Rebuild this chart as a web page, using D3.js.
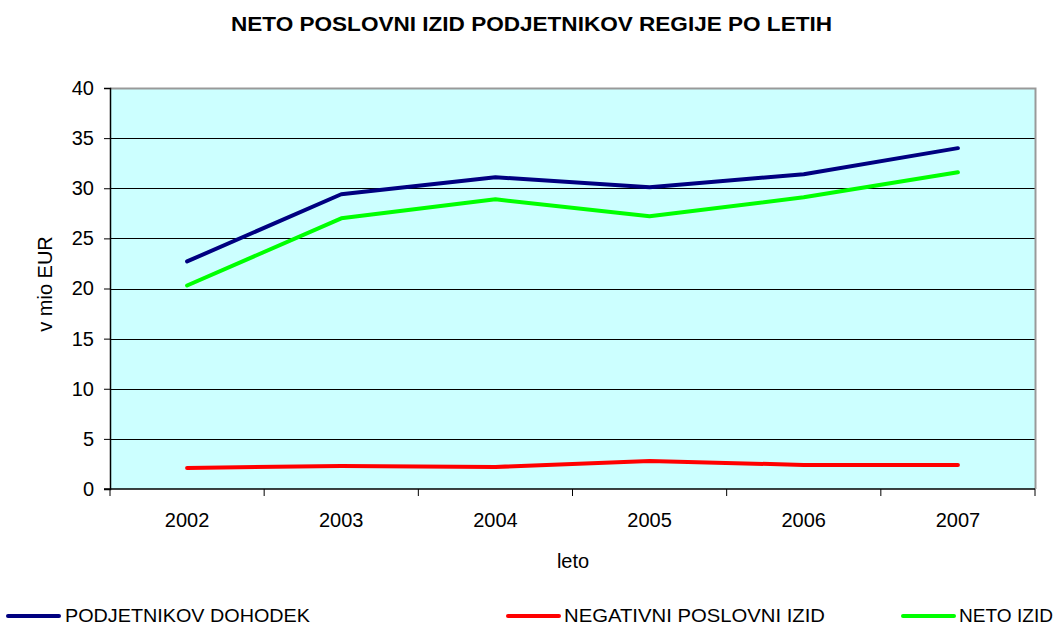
<!doctype html>
<html>
<head>
<meta charset="utf-8">
<style>
  body { margin: 0; background: #fff; }
  text { font-family: "Liberation Sans", Arial, sans-serif; fill: #000; }
</style>
<script src="https://d3js.org/d3.v7.min.js"></script>
</head>
<body>
<svg width="1056" height="626"></svg>
<script>
var years = ["2002", "2003", "2004", "2005", "2006", "2007"];
var dohodek = [22.7, 29.4, 31.1, 30.1, 31.4, 34.0];
var negativni = [2.1, 2.3, 2.2, 2.8, 2.4, 2.4];
var neto = [20.3, 27.0, 28.9, 27.2, 29.1, 31.6];
var yTicks = [0, 5, 10, 15, 20, 25, 30, 35, 40];

var series = [
  { name: "PODJETNIKOV DOHODEK", values: dohodek, color: "#000080" },
  { name: "NEGATIVNI POSLOVNI IZID", values: negativni, color: "#FF0000" },
  { name: "NETO IZID", values: neto, color: "#00FF00" }
];

var svg = d3.select("svg"),
    pLeft = 110, pRight = 1035, pTop = 88, pBottom = 489;

var x = d3.scaleBand().domain(years).range([pLeft, pRight]);
var y = d3.scaleLinear().domain([0, 40]).range([pBottom, pTop]);

// plot background
svg.append("rect")
   .attr("x", pLeft).attr("y", pTop)
   .attr("width", pRight - pLeft).attr("height", pBottom - pTop)
   .attr("fill", "#CCFFFF");

// grid lines
svg.append("g").selectAll("line")
   .data(yTicks.filter(function(d) { return d > 0 && d < 40; }))
   .enter().append("line")
   .attr("x1", pLeft).attr("x2", pRight)
   .attr("y1", function(d) { return Math.round(y(d)) + 0.5; })
   .attr("y2", function(d) { return Math.round(y(d)) + 0.5; })
   .attr("stroke", "#000").attr("stroke-width", 1);

// grey border top / right
svg.append("path")
   .attr("d", "M" + pLeft + "," + (pTop + 0.5) + "H" + (pRight + 0.5) + "V" + pBottom)
   .attr("fill", "none").attr("stroke", "#999").attr("stroke-width", 2);

// y axis
var yAxis = svg.append("g")
   .attr("transform", "translate(" + pLeft + ",0)")
   .call(d3.axisLeft(y).tickValues(yTicks).tickSize(6).tickPadding(10));
yAxis.selectAll("text").style("font-size", "20px");
yAxis.select(".domain").attr("stroke-width", 1.5);

// x axis
var xAxis = svg.append("g")
   .attr("transform", "translate(0," + pBottom + ")")
   .call(d3.axisBottom(x).tickSize(0).tickPadding(24));
xAxis.selectAll("text").style("font-size", "20px");
xAxis.select(".domain").remove();
svg.append("g").selectAll("line")
   .data(d3.range(years.length + 1))
   .enter().append("line")
   .attr("x1", function(i) { return pLeft + i * x.step(); })
   .attr("x2", function(i) { return pLeft + i * x.step(); })
   .attr("y1", pBottom).attr("y2", pBottom + 7)
   .attr("stroke", "#000");
svg.append("line")
   .attr("x1", pLeft - 6).attr("x2", pRight).attr("y1", pBottom).attr("y2", pBottom)
   .attr("stroke", "#000").attr("stroke-width", 1.5);

// lines
var line = d3.line()
   .x(function(d, i) { return x(years[i]) + x.bandwidth() / 2; })
   .y(function(d) { return y(d); });

series.forEach(function(s) {
  svg.append("path")
     .datum(s.values)
     .attr("d", line)
     .attr("fill", "none")
     .attr("stroke", s.color)
     .attr("stroke-width", 4)
     .attr("stroke-linejoin", "round")
     .attr("stroke-linecap", "round");
});

// titles
svg.append("text")
   .attr("x", 231).attr("y", 31)
   .attr("textLength", 601)
   .attr("lengthAdjust", "spacingAndGlyphs")
   .style("font-size", "20px").style("font-weight", "bold")
   .text("NETO POSLOVNI IZID PODJETNIKOV REGIJE PO LETIH");

svg.append("text")
   .attr("transform", "translate(52,284)rotate(-90)")
   .attr("text-anchor", "middle")
   .style("font-size", "20px")
   .text("v mio EUR");

svg.append("text")
   .attr("x", 573).attr("y", 568)
   .attr("text-anchor", "middle")
   .style("font-size", "20px")
   .text("leto");

// legend
var legendPos = [
  { lx: 8, tx: 65, tw: 245 },
  { lx: 508, tx: 564, tw: 261 },
  { lx: 903, tx: 959, tw: 94 }
];
series.forEach(function(s, i) {
  var p = legendPos[i];
  svg.append("line")
     .attr("x1", p.lx).attr("x2", p.lx + 51)
     .attr("y1", 616).attr("y2", 616)
     .attr("stroke", s.color).attr("stroke-width", 4)
     .attr("stroke-linecap", "round");
  svg.append("text")
     .attr("x", p.tx).attr("y", 622)
     .attr("textLength", p.tw)
     .attr("lengthAdjust", "spacingAndGlyphs")
     .style("font-size", "19px")
     .text(s.name);
});
</script>
</body>
</html>
